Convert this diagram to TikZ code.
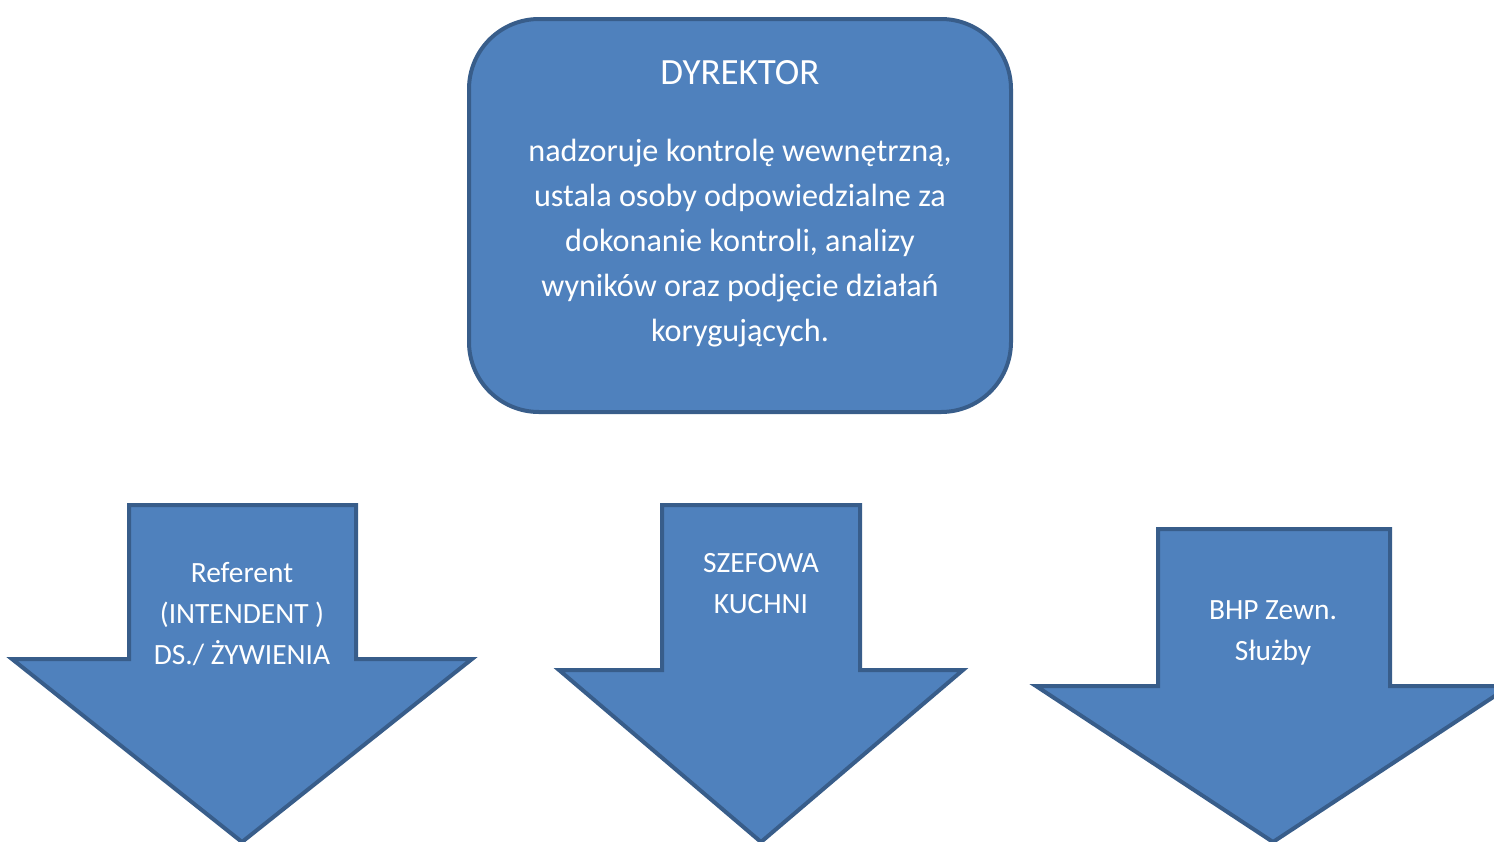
\documentclass[tikz,border=0pt]{standalone}
\usepackage{fontspec}
\setmainfont{Carlito}
\definecolor{blue1}{HTML}{4F81BD}
\definecolor{blue2}{HTML}{385D8A}

\begin{document}
\begin{tikzpicture}[x=0.5pt,y=-0.5pt,
    blok/.style={fill=blue1,draw=blue2,line width=2pt,line join=miter},
    tytul/.style={text=white,align=center,font=\fontsize{18.5}{22.5}\selectfont},
    opis/.style={text=white,align=center,font=\fontsize{16.1}{22.5}\selectfont},
    napis/.style={text=white,align=center,font=\fontsize{14.7}{20.5}\selectfont}]
    \useasboundingbox (0,0) rectangle (1494,841);
    \clip (0,0) rectangle (1494,841);
    % dyrektor
    \node[blok,rounded corners=35pt,minimum width=271pt,minimum height=196.5pt,inner sep=0pt] (dyr) at (740,215.5) {};
    \node[tytul] (dyrtyt) at (740,73) {DYREKTOR};
    \node[opis] (dyropis) at (740,243) {nadzoruje kontrolę wewnętrzną,\\ustala osoby odpowiedzialne za\\dokonanie kontroli, analizy\\wyników oraz podjęcie działań\\korygujących.};
    % strzalki
    \path[blok] (129,505)--(356,505)--(356,659)--(472,659)--(242,842)--(12,659)--(129,659)--cycle;
    \path[blok] (662,505)--(860,505)--(860,670)--(963,670)--(761,842)--(559,670)--(662,670)--cycle;
    \path[blok] (1158,529)--(1390,529)--(1390,686)--(1510,686)--(1273,842)--(1036,686)--(1158,686)--cycle;
    \node[napis] (referent) at (242,614) {Referent\\(INTENDENT )\\DS./ ŻYWIENIA};
    \node[napis] (szefowa) at (761,583.5) {SZEFOWA\\KUCHNI};
    \node[napis] (bhp) at (1273,632.5) {BHP Zewn.\\Służby};
\end{tikzpicture}
\end{document}
